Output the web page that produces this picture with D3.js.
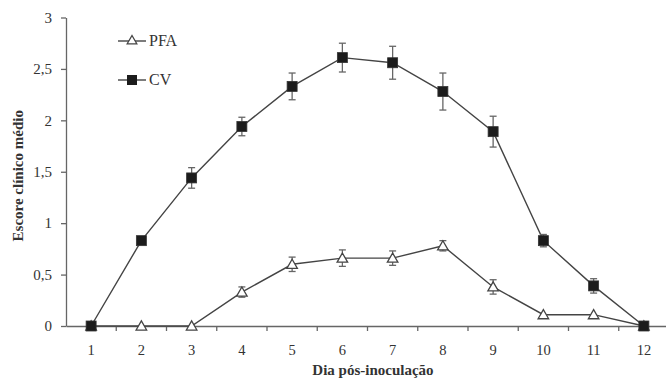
<!DOCTYPE html>
<html>
<head>
<meta charset="utf-8">
<script src="https://cdn.jsdelivr.net/npm/d3@7"></script>
<style>
  body { margin: 0; background: #fff; }
  svg text { font-family: "Times New Roman", "Liberation Serif", Times, serif !important; fill: #333; }
</style>
</head>
<body>
<div id="chart"></div>
<script>
// data
const days = ['1', '2', '3', '4', '5', '6', '7', '8', '9', '10', '11', '12'];
const cvMean = [0, 0.83, 1.44, 1.94, 2.33, 2.61, 2.56, 2.28, 1.89, 0.83, 0.39, 0];
const cvErr = [0, 0, 0.10, 0.09, 0.13, 0.14, 0.16, 0.18, 0.15, 0.06, 0.07, 0];
const pfaMean = [0, 0, 0, 0.33, 0.60, 0.66, 0.66, 0.78, 0.38, 0.11, 0.11, 0];
const pfaErr = [0, 0, 0, 0.05, 0.07, 0.08, 0.07, 0.05, 0.07, 0, 0, 0];
const yTicks = [0, 0.5, 1, 1.5, 2, 2.5, 3];

const width = 666, height = 378;
const margin = { top: 17.5, right: -3, bottom: 52, left: 66 };
const w = width - margin.left - margin.right;
const h = height - margin.top - margin.bottom;

const svg = d3.select('#chart').append('svg')
    .attr('width', width)
    .attr('height', height);
const g = svg.append('g')
    .attr('transform', `translate(${margin.left}, ${margin.top})`);

const x = d3.scaleBand().domain(days).range([0, w]);
const y = d3.scaleLinear().domain([0, 3]).range([h, 0]);
const fmt = d => d3.format('~g')(d).replace('.', ',');

// y axis
const yAxis = g.append('g')
    .call(d3.axisLeft(y).tickValues(yTicks).tickFormat(fmt).tickSizeInner(5).tickSizeOuter(0).tickPadding(9));
yAxis.attr('font-family', null);
yAxis.selectAll('text').attr('font-size', '15px');

// x axis, ticks between categories
const xAxis = g.append('g')
    .attr('transform', `translate(0, ${h})`)
    .call(d3.axisBottom(x).tickSize(0).tickPadding(19));
xAxis.attr('font-family', null);
xAxis.selectAll('text').attr('font-size', '14.5px');
xAxis.selectAll('.bnd').data(days.slice(1)).join('line')
    .attr('x1', d => x(d)).attr('x2', d => x(d))
    .attr('y1', 0).attr('y2', 5);
g.selectAll('.domain, line').attr('stroke', '#666').attr('stroke-width', 1.3);

// axis titles
svg.append('text')
    .attr('transform', `translate(23, ${margin.top + h / 2 + 4}) rotate(-90)`)
    .attr('text-anchor', 'middle')
    .attr('font-size', '15px').attr('font-weight', 'bold')
    .text('Escore clínico médio');
svg.append('text')
    .attr('x', 373).attr('y', 375)
    .attr('text-anchor', 'middle')
    .attr('font-size', '15px').attr('font-weight', 'bold')
    .text('Dia pós-inoculação');

const cx = i => x(days[i]) + x.bandwidth() / 2;
const line = d3.line().x((d, i) => cx(i)).y(d => y(d));

function drawSeries(mean, err, kind) {
    g.append('path')
        .attr('d', line(mean))
        .attr('fill', 'none')
        .attr('stroke', '#444')
        .attr('stroke-width', 1.4);
    const eb = g.append('g').attr('stroke', '#666').attr('stroke-width', 1.3);
    mean.forEach((m, i) => {
        if (!err[i]) return;
        const top = y(m + err[i]), bot = y(m - err[i]);
        eb.append('line').attr('x1', cx(i)).attr('x2', cx(i)).attr('y1', top).attr('y2', bot);
        eb.append('line').attr('x1', cx(i) - 3.5).attr('x2', cx(i) + 3.5).attr('y1', top).attr('y2', top);
        eb.append('line').attr('x1', cx(i) - 3.5).attr('x2', cx(i) + 3.5).attr('y1', bot).attr('y2', bot);
    });
    if (kind === 'square') {
        g.selectAll('.sq').data(mean).join('rect')
            .attr('x', (d, i) => cx(i) - 5).attr('y', d => y(d) - 5)
            .attr('width', 10).attr('height', 10)
            .attr('fill', '#1c1c1c').attr('stroke', '#333').attr('stroke-width', 0.8);
    } else {
        g.selectAll('.tri').data(mean).join('path')
            .attr('d', d3.symbol(d3.symbolTriangle, 48))
            .attr('transform', (d, i) => `translate(${cx(i)}, ${y(d) + 1})`)
            .attr('fill', '#fff').attr('stroke', '#444').attr('stroke-width', 1.3);
    }
}
drawSeries(pfaMean, pfaErr, 'triangle');
drawSeries(cvMean, cvErr, 'square');

// legend
const legend = svg.append('g');
const items = [{ name: 'PFA', kind: 'triangle', y: 41 }, { name: 'CV', kind: 'square', y: 80 }];
items.forEach(it => {
    legend.append('line').attr('x1', 118).attr('x2', 146).attr('y1', it.y).attr('y2', it.y)
        .attr('stroke', '#444').attr('stroke-width', 1.4);
    if (it.kind === 'square') {
        legend.append('rect').attr('x', 127).attr('y', it.y - 5).attr('width', 10).attr('height', 10)
            .attr('fill', '#1c1c1c');
    } else {
        legend.append('path').attr('d', d3.symbol(d3.symbolTriangle, 40))
            .attr('transform', `translate(132, ${it.y})`)
            .attr('fill', '#fff').attr('stroke', '#444').attr('stroke-width', 1.3);
    }
    legend.append('text').attr('x', 149).attr('y', it.y + 5)
        .attr('font-size', '16px').text(it.name);
});
</script>
</body>
</html>
